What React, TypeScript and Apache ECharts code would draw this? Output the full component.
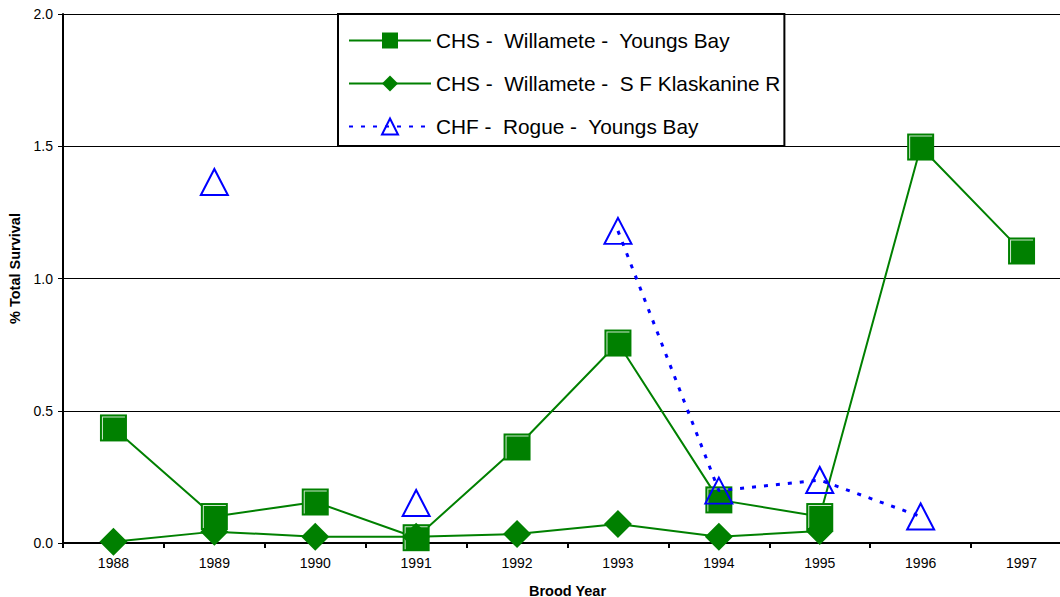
import React, { useEffect, useRef } from "react";
import * as echarts from "echarts";

const years = ["1988", "1989", "1990", "1991", "1992", "1993", "1994", "1995", "1996", "1997"];
const youngsBay = [0.435, 0.1, 0.155, 0.02, 0.363, 0.756, 0.163, 0.1, 1.497, 1.104];
const klaskanine = [0.005, 0.043, 0.024, 0.024, 0.034, 0.072, 0.024, 0.045, null, null];
const rogue = [null, 1.365, null, 0.151, null, 1.18, 0.198, 0.238, 0.1, null];

const names = [
  "CHS -  Willamete -  Youngs Bay",
  "CHS -  Willamete -  S F Klaskanine R",
  "CHF -  Rogue -  Youngs Bay",
];

const FONT = "Arial, 'Liberation Sans', sans-serif";
const GREEN = "#008000";
const BLUE = "#0000FF";

export default function App() {
  const ref = useRef<HTMLDivElement>(null);
  useEffect(() => {
    const chart = echarts.init(ref.current!, null, { renderer: "svg" });
    chart.setOption({
      animation: false,
      backgroundColor: "#ffffff",
      textStyle: { fontFamily: FONT },
      grid: { left: 63, top: 14, bottom: 54, right: -12, outerBoundsMode: "none", containLabel: false },
      legend: {
        data: names,
        orient: "vertical",
        left: 338,
        top: 14,
        padding: [16, 4, 9, 10],
        itemGap: 22,
        itemWidth: 82,
        itemHeight: 20,
        backgroundColor: "#ffffff",
        borderColor: "#000000",
        borderWidth: 2,
        borderRadius: 0,
        textStyle: { fontSize: 20.8, color: "#000000", fontFamily: FONT, lineHeight: 20 },
      },
      xAxis: {
        type: "category",
        data: years,
        boundaryGap: true,
        name: "Brood Year",
        nameLocation: "middle",
        nameGap: 40,
        nameTextStyle: { fontSize: 14.5, fontWeight: "bold", color: "#000", fontFamily: FONT },
        axisLine: { lineStyle: { color: "#000", width: 2 } },
        axisTick: { show: true, length: 5, lineStyle: { color: "#000", width: 2 }, interval: 0 },
        axisLabel: { fontSize: 14, color: "#000", margin: 13, interval: 0, fontFamily: FONT },
        splitLine: { show: false },
      },
      yAxis: {
        type: "value",
        min: 0,
        max: 2,
        interval: 0.5,
        name: "% Total Survival",
        nameLocation: "middle",
        nameGap: 40,
        nameRotate: 90,
        nameTextStyle: {
          fontSize: 14.5,
          fontWeight: "bold",
          color: "#000",
          fontFamily: FONT,
          padding: [0, 0, 0, 20],
        },
        axisLine: { show: true, lineStyle: { color: "#000", width: 2 } },
        axisTick: { show: true, length: 5, lineStyle: { color: "#000", width: 1 } },
        axisLabel: {
          fontSize: 14,
          color: "#000",
          margin: 10,
          fontFamily: FONT,
          formatter: (v: number) => v.toFixed(1),
        },
        splitLine: { show: true, lineStyle: { color: "#000", width: 1 } },
      },
      series: [
        {
          name: names[0],
          type: "line",
          data: youngsBay,
          symbol: "rect",
          symbolSize: 27,
          showAllSymbol: true,
          itemStyle: { color: GREEN, borderColor: GREEN, borderWidth: 0 },
          lineStyle: { color: GREEN, width: 2 },
          z: 2,
        },
        {
          name: names[0] + "-hl",
          type: "scatter",
          data: youngsBay,
          symbol: "path://M2,2 H25 V3 H3 V25 H2 Z",
          symbolSize: 23,
          itemStyle: { color: "#ffffff" },
          silent: true,
          z: 2,
        },
        {
          name: names[1],
          type: "line",
          data: klaskanine,
          symbol: "diamond",
          symbolSize: 28,
          showAllSymbol: true,
          itemStyle: { color: GREEN },
          lineStyle: { color: GREEN, width: 2 },
          z: 3,
        },
        {
          name: names[2],
          type: "line",
          data: rogue,
          connectNulls: false,
          symbol: "triangle",
          symbolSize: [27, 26],
          showAllSymbol: true,
          itemStyle: { color: "rgba(255,255,255,0)", borderColor: BLUE, borderWidth: 2 },
          lineStyle: { color: BLUE, width: 3, type: [4, 8] },
          z: 4,
        },
      ],
    });
    return () => chart.dispose();
  }, []);
  return (
    <div
      ref={ref}
      style={{ position: "fixed", left: 0, top: 0, width: 1060, height: 597, background: "#fff" }}
    />
  );
}
